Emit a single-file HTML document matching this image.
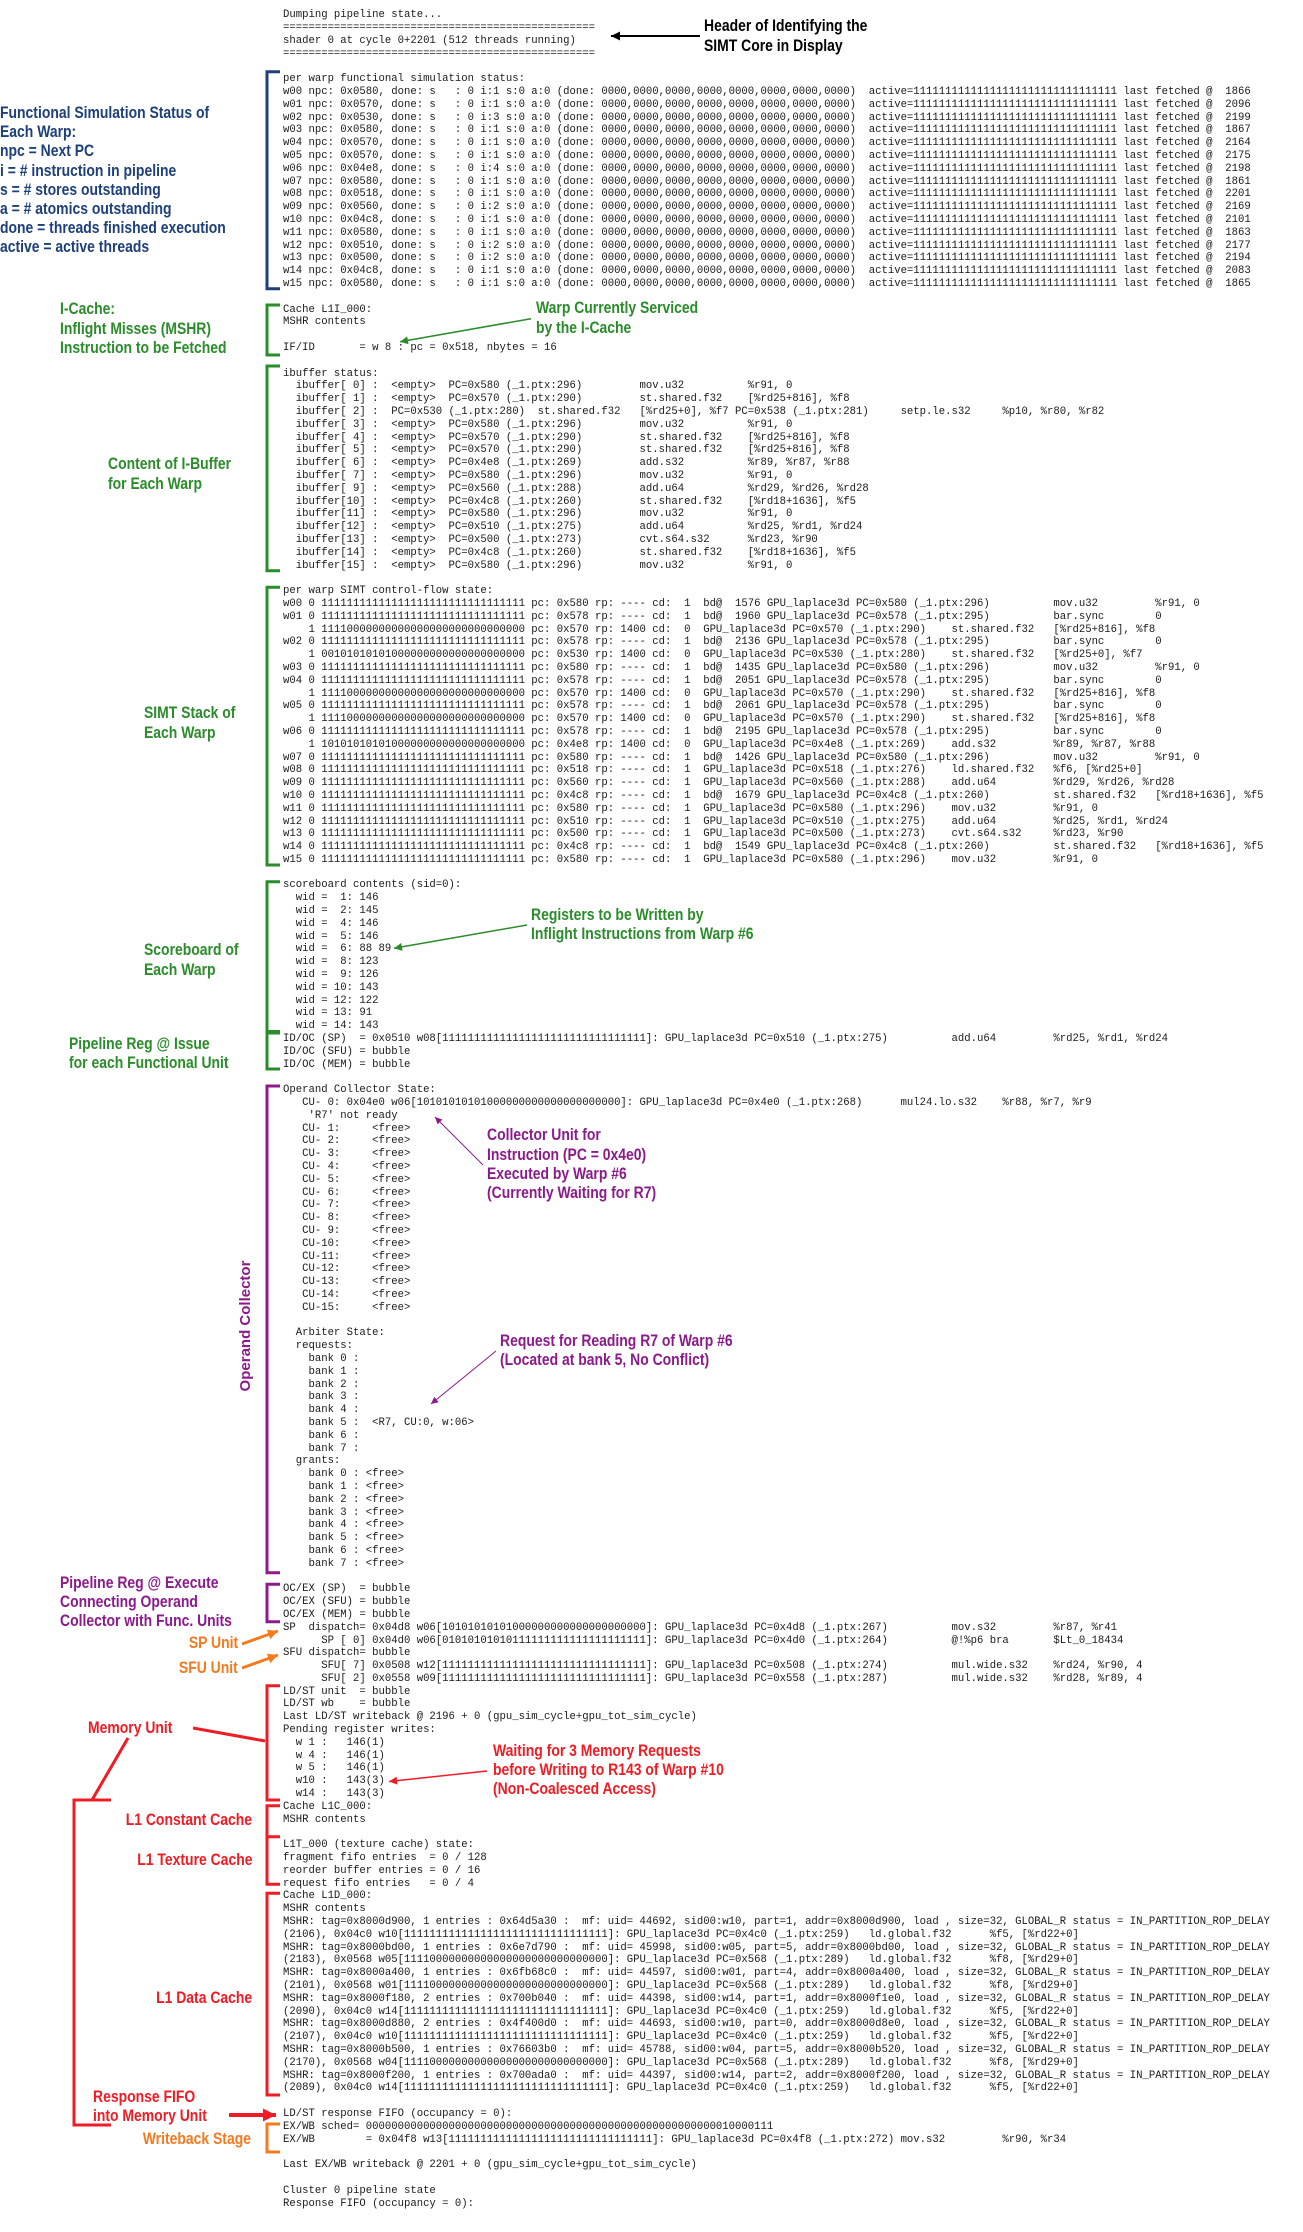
<!DOCTYPE html>
<html><head><meta charset="utf-8">
<style>
html,body{margin:0;padding:0;background:#fff;}
body{width:1303px;height:2232px;position:relative;overflow:hidden;}
pre{position:absolute;left:283px;top:9.3px;margin:0;font-family:"Liberation Mono",monospace;font-size:10.627px;line-height:12.8px;color:#1a1a1a;white-space:pre;}
.l{position:absolute;font-family:"Liberation Sans",sans-serif;font-weight:bold;font-size:17px;line-height:19.2px;white-space:nowrap;transform:scaleX(.82);transform-origin:left top;}
.r{text-align:right;transform-origin:right top;}
.blue{color:#1d3f7a}.green{color:#2a8c2a}.purple{color:#8b1a8b}.red{color:#ee1c24}.orange{color:#f47a20}.black{color:#000}
svg{position:absolute;left:0;top:0;}
</style></head><body>
<pre>Dumping pipeline state...
=================================================
shader 0 at cycle 0+2201 (512 threads running)
=================================================

per warp functional simulation status:
w00 npc: 0x0580, done: s   : 0 i:1 s:0 a:0 (done: 0000,0000,0000,0000,0000,0000,0000,0000)  active=11111111111111111111111111111111 last fetched @  1866
w01 npc: 0x0570, done: s   : 0 i:1 s:0 a:0 (done: 0000,0000,0000,0000,0000,0000,0000,0000)  active=11111111111111111111111111111111 last fetched @  2096
w02 npc: 0x0530, done: s   : 0 i:3 s:0 a:0 (done: 0000,0000,0000,0000,0000,0000,0000,0000)  active=11111111111111111111111111111111 last fetched @  2199
w03 npc: 0x0580, done: s   : 0 i:1 s:0 a:0 (done: 0000,0000,0000,0000,0000,0000,0000,0000)  active=11111111111111111111111111111111 last fetched @  1867
w04 npc: 0x0570, done: s   : 0 i:1 s:0 a:0 (done: 0000,0000,0000,0000,0000,0000,0000,0000)  active=11111111111111111111111111111111 last fetched @  2164
w05 npc: 0x0570, done: s   : 0 i:1 s:0 a:0 (done: 0000,0000,0000,0000,0000,0000,0000,0000)  active=11111111111111111111111111111111 last fetched @  2175
w06 npc: 0x04e8, done: s   : 0 i:4 s:0 a:0 (done: 0000,0000,0000,0000,0000,0000,0000,0000)  active=11111111111111111111111111111111 last fetched @  2198
w07 npc: 0x0580, done: s   : 0 i:1 s:0 a:0 (done: 0000,0000,0000,0000,0000,0000,0000,0000)  active=11111111111111111111111111111111 last fetched @  1861
w08 npc: 0x0518, done: s   : 0 i:1 s:0 a:0 (done: 0000,0000,0000,0000,0000,0000,0000,0000)  active=11111111111111111111111111111111 last fetched @  2201
w09 npc: 0x0560, done: s   : 0 i:2 s:0 a:0 (done: 0000,0000,0000,0000,0000,0000,0000,0000)  active=11111111111111111111111111111111 last fetched @  2169
w10 npc: 0x04c8, done: s   : 0 i:1 s:0 a:0 (done: 0000,0000,0000,0000,0000,0000,0000,0000)  active=11111111111111111111111111111111 last fetched @  2101
w11 npc: 0x0580, done: s   : 0 i:1 s:0 a:0 (done: 0000,0000,0000,0000,0000,0000,0000,0000)  active=11111111111111111111111111111111 last fetched @  1863
w12 npc: 0x0510, done: s   : 0 i:2 s:0 a:0 (done: 0000,0000,0000,0000,0000,0000,0000,0000)  active=11111111111111111111111111111111 last fetched @  2177
w13 npc: 0x0500, done: s   : 0 i:2 s:0 a:0 (done: 0000,0000,0000,0000,0000,0000,0000,0000)  active=11111111111111111111111111111111 last fetched @  2194
w14 npc: 0x04c8, done: s   : 0 i:1 s:0 a:0 (done: 0000,0000,0000,0000,0000,0000,0000,0000)  active=11111111111111111111111111111111 last fetched @  2083
w15 npc: 0x0580, done: s   : 0 i:1 s:0 a:0 (done: 0000,0000,0000,0000,0000,0000,0000,0000)  active=11111111111111111111111111111111 last fetched @  1865

Cache L1I_000:
MSHR contents

IF/ID       = w 8 : pc = 0x518, nbytes = 16

ibuffer status:
  ibuffer[ 0] :  &lt;empty&gt;  PC=0x580 (_1.ptx:296)         mov.u32          %r91, 0
  ibuffer[ 1] :  &lt;empty&gt;  PC=0x570 (_1.ptx:290)         st.shared.f32    [%rd25+816], %f8
  ibuffer[ 2] :  PC=0x530 (_1.ptx:280)  st.shared.f32   [%rd25+0], %f7 PC=0x538 (_1.ptx:281)     setp.le.s32     %p10, %r80, %r82
  ibuffer[ 3] :  &lt;empty&gt;  PC=0x580 (_1.ptx:296)         mov.u32          %r91, 0
  ibuffer[ 4] :  &lt;empty&gt;  PC=0x570 (_1.ptx:290)         st.shared.f32    [%rd25+816], %f8
  ibuffer[ 5] :  &lt;empty&gt;  PC=0x570 (_1.ptx:290)         st.shared.f32    [%rd25+816], %f8
  ibuffer[ 6] :  &lt;empty&gt;  PC=0x4e8 (_1.ptx:269)         add.s32          %r89, %r87, %r88
  ibuffer[ 7] :  &lt;empty&gt;  PC=0x580 (_1.ptx:296)         mov.u32          %r91, 0
  ibuffer[ 9] :  &lt;empty&gt;  PC=0x560 (_1.ptx:288)         add.u64          %rd29, %rd26, %rd28
  ibuffer[10] :  &lt;empty&gt;  PC=0x4c8 (_1.ptx:260)         st.shared.f32    [%rd18+1636], %f5
  ibuffer[11] :  &lt;empty&gt;  PC=0x580 (_1.ptx:296)         mov.u32          %r91, 0
  ibuffer[12] :  &lt;empty&gt;  PC=0x510 (_1.ptx:275)         add.u64          %rd25, %rd1, %rd24
  ibuffer[13] :  &lt;empty&gt;  PC=0x500 (_1.ptx:273)         cvt.s64.s32      %rd23, %r90
  ibuffer[14] :  &lt;empty&gt;  PC=0x4c8 (_1.ptx:260)         st.shared.f32    [%rd18+1636], %f5
  ibuffer[15] :  &lt;empty&gt;  PC=0x580 (_1.ptx:296)         mov.u32          %r91, 0

per warp SIMT control-flow state:
w00 0 11111111111111111111111111111111 pc: 0x580 rp: ---- cd:  1  bd@  1576 GPU_laplace3d PC=0x580 (_1.ptx:296)          mov.u32         %r91, 0
w01 0 11111111111111111111111111111111 pc: 0x578 rp: ---- cd:  1  bd@  1960 GPU_laplace3d PC=0x578 (_1.ptx:295)          bar.sync        0
    1 11110000000000000000000000000000 pc: 0x570 rp: 1400 cd:  0  GPU_laplace3d PC=0x570 (_1.ptx:290)    st.shared.f32   [%rd25+816], %f8
w02 0 11111111111111111111111111111111 pc: 0x578 rp: ---- cd:  1  bd@  2136 GPU_laplace3d PC=0x578 (_1.ptx:295)          bar.sync        0
    1 00101010101000000000000000000000 pc: 0x530 rp: 1400 cd:  0  GPU_laplace3d PC=0x530 (_1.ptx:280)    st.shared.f32   [%rd25+0], %f7
w03 0 11111111111111111111111111111111 pc: 0x580 rp: ---- cd:  1  bd@  1435 GPU_laplace3d PC=0x580 (_1.ptx:296)          mov.u32         %r91, 0
w04 0 11111111111111111111111111111111 pc: 0x578 rp: ---- cd:  1  bd@  2051 GPU_laplace3d PC=0x578 (_1.ptx:295)          bar.sync        0
    1 11110000000000000000000000000000 pc: 0x570 rp: 1400 cd:  0  GPU_laplace3d PC=0x570 (_1.ptx:290)    st.shared.f32   [%rd25+816], %f8
w05 0 11111111111111111111111111111111 pc: 0x578 rp: ---- cd:  1  bd@  2061 GPU_laplace3d PC=0x578 (_1.ptx:295)          bar.sync        0
    1 11110000000000000000000000000000 pc: 0x570 rp: 1400 cd:  0  GPU_laplace3d PC=0x570 (_1.ptx:290)    st.shared.f32   [%rd25+816], %f8
w06 0 11111111111111111111111111111111 pc: 0x578 rp: ---- cd:  1  bd@  2195 GPU_laplace3d PC=0x578 (_1.ptx:295)          bar.sync        0
    1 10101010101000000000000000000000 pc: 0x4e8 rp: 1400 cd:  0  GPU_laplace3d PC=0x4e8 (_1.ptx:269)    add.s32         %r89, %r87, %r88
w07 0 11111111111111111111111111111111 pc: 0x580 rp: ---- cd:  1  bd@  1426 GPU_laplace3d PC=0x580 (_1.ptx:296)          mov.u32         %r91, 0
w08 0 11111111111111111111111111111111 pc: 0x518 rp: ---- cd:  1  GPU_laplace3d PC=0x518 (_1.ptx:276)    ld.shared.f32   %f6, [%rd25+0]
w09 0 11111111111111111111111111111111 pc: 0x560 rp: ---- cd:  1  GPU_laplace3d PC=0x560 (_1.ptx:288)    add.u64         %rd29, %rd26, %rd28
w10 0 11111111111111111111111111111111 pc: 0x4c8 rp: ---- cd:  1  bd@  1679 GPU_laplace3d PC=0x4c8 (_1.ptx:260)          st.shared.f32   [%rd18+1636], %f5
w11 0 11111111111111111111111111111111 pc: 0x580 rp: ---- cd:  1  GPU_laplace3d PC=0x580 (_1.ptx:296)    mov.u32         %r91, 0
w12 0 11111111111111111111111111111111 pc: 0x510 rp: ---- cd:  1  GPU_laplace3d PC=0x510 (_1.ptx:275)    add.u64         %rd25, %rd1, %rd24
w13 0 11111111111111111111111111111111 pc: 0x500 rp: ---- cd:  1  GPU_laplace3d PC=0x500 (_1.ptx:273)    cvt.s64.s32     %rd23, %r90
w14 0 11111111111111111111111111111111 pc: 0x4c8 rp: ---- cd:  1  bd@  1549 GPU_laplace3d PC=0x4c8 (_1.ptx:260)          st.shared.f32   [%rd18+1636], %f5
w15 0 11111111111111111111111111111111 pc: 0x580 rp: ---- cd:  1  GPU_laplace3d PC=0x580 (_1.ptx:296)    mov.u32         %r91, 0

scoreboard contents (sid=0):
  wid =  1: 146
  wid =  2: 145
  wid =  4: 146
  wid =  5: 146
  wid =  6: 88 89
  wid =  8: 123
  wid =  9: 126
  wid = 10: 143
  wid = 12: 122
  wid = 13: 91
  wid = 14: 143
ID/OC (SP)  = 0x0510 w08[11111111111111111111111111111111]: GPU_laplace3d PC=0x510 (_1.ptx:275)          add.u64         %rd25, %rd1, %rd24
ID/OC (SFU) = bubble
ID/OC (MEM) = bubble

Operand Collector State:
   CU- 0: 0x04e0 w06[10101010101000000000000000000000]: GPU_laplace3d PC=0x4e0 (_1.ptx:268)      mul24.lo.s32    %r88, %r7, %r9
    'R7' not ready
   CU- 1:     &lt;free&gt;
   CU- 2:     &lt;free&gt;
   CU- 3:     &lt;free&gt;
   CU- 4:     &lt;free&gt;
   CU- 5:     &lt;free&gt;
   CU- 6:     &lt;free&gt;
   CU- 7:     &lt;free&gt;
   CU- 8:     &lt;free&gt;
   CU- 9:     &lt;free&gt;
   CU-10:     &lt;free&gt;
   CU-11:     &lt;free&gt;
   CU-12:     &lt;free&gt;
   CU-13:     &lt;free&gt;
   CU-14:     &lt;free&gt;
   CU-15:     &lt;free&gt;

  Arbiter State:
  requests:
    bank 0 :
    bank 1 :
    bank 2 :
    bank 3 :
    bank 4 :
    bank 5 :  &lt;R7, CU:0, w:06&gt;
    bank 6 :
    bank 7 :
  grants:
    bank 0 : &lt;free&gt;
    bank 1 : &lt;free&gt;
    bank 2 : &lt;free&gt;
    bank 3 : &lt;free&gt;
    bank 4 : &lt;free&gt;
    bank 5 : &lt;free&gt;
    bank 6 : &lt;free&gt;
    bank 7 : &lt;free&gt;

OC/EX (SP)  = bubble
OC/EX (SFU) = bubble
OC/EX (MEM) = bubble
SP  dispatch= 0x04d8 w06[10101010101000000000000000000000]: GPU_laplace3d PC=0x4d8 (_1.ptx:267)          mov.s32         %r87, %r41
      SP [ 0] 0x04d0 w06[01010101010111111111111111111111]: GPU_laplace3d PC=0x4d0 (_1.ptx:264)          @!%p6 bra       $Lt_0_18434
SFU dispatch= bubble
      SFU[ 7] 0x0508 w12[11111111111111111111111111111111]: GPU_laplace3d PC=0x508 (_1.ptx:274)          mul.wide.s32    %rd24, %r90, 4
      SFU[ 2] 0x0558 w09[11111111111111111111111111111111]: GPU_laplace3d PC=0x558 (_1.ptx:287)          mul.wide.s32    %rd28, %r89, 4
LD/ST unit  = bubble
LD/ST wb    = bubble
Last LD/ST writeback @ 2196 + 0 (gpu_sim_cycle+gpu_tot_sim_cycle)
Pending register writes:
  w 1 :   146(1)
  w 4 :   146(1)
  w 5 :   146(1)
  w10 :   143(3)
  w14 :   143(3)
Cache L1C_000:
MSHR contents

L1T_000 (texture cache) state:
fragment fifo entries  = 0 / 128
reorder buffer entries = 0 / 16
request fifo entries   = 0 / 4
Cache L1D_000:
MSHR contents
MSHR: tag=0x8000d900, 1 entries : 0x64d5a30 :  mf: uid= 44692, sid00:w10, part=1, addr=0x8000d900, load , size=32, GLOBAL_R status = IN_PARTITION_ROP_DELAY
(2106), 0x04c0 w10[11111111111111111111111111111111]: GPU_laplace3d PC=0x4c0 (_1.ptx:259)   ld.global.f32      %f5, [%rd22+0]
MSHR: tag=0x8000bd00, 1 entries : 0x6e7d790 :  mf: uid= 45998, sid00:w05, part=5, addr=0x8000bd00, load , size=32, GLOBAL_R status = IN_PARTITION_ROP_DELAY
(2183), 0x0568 w05[11110000000000000000000000000000]: GPU_laplace3d PC=0x568 (_1.ptx:289)   ld.global.f32      %f8, [%rd29+0]
MSHR: tag=0x8000a400, 1 entries : 0x6fb68c0 :  mf: uid= 44597, sid00:w01, part=4, addr=0x8000a400, load , size=32, GLOBAL_R status = IN_PARTITION_ROP_DELAY
(2101), 0x0568 w01[11110000000000000000000000000000]: GPU_laplace3d PC=0x568 (_1.ptx:289)   ld.global.f32      %f8, [%rd29+0]
MSHR: tag=0x8000f180, 2 entries : 0x700b040 :  mf: uid= 44398, sid00:w14, part=1, addr=0x8000f1e0, load , size=32, GLOBAL_R status = IN_PARTITION_ROP_DELAY
(2090), 0x04c0 w14[11111111111111111111111111111111]: GPU_laplace3d PC=0x4c0 (_1.ptx:259)   ld.global.f32      %f5, [%rd22+0]
MSHR: tag=0x8000d880, 2 entries : 0x4f400d0 :  mf: uid= 44693, sid00:w10, part=0, addr=0x8000d8e0, load , size=32, GLOBAL_R status = IN_PARTITION_ROP_DELAY
(2107), 0x04c0 w10[11111111111111111111111111111111]: GPU_laplace3d PC=0x4c0 (_1.ptx:259)   ld.global.f32      %f5, [%rd22+0]
MSHR: tag=0x8000b500, 1 entries : 0x76603b0 :  mf: uid= 45788, sid00:w04, part=5, addr=0x8000b520, load , size=32, GLOBAL_R status = IN_PARTITION_ROP_DELAY
(2170), 0x0568 w04[11110000000000000000000000000000]: GPU_laplace3d PC=0x568 (_1.ptx:289)   ld.global.f32      %f8, [%rd29+0]
MSHR: tag=0x8000f200, 1 entries : 0x700ada0 :  mf: uid= 44397, sid00:w14, part=2, addr=0x8000f200, load , size=32, GLOBAL_R status = IN_PARTITION_ROP_DELAY
(2089), 0x04c0 w14[11111111111111111111111111111111]: GPU_laplace3d PC=0x4c0 (_1.ptx:259)   ld.global.f32      %f5, [%rd22+0]

LD/ST response FIFO (occupancy = 0):
EX/WB sched= 0000000000000000000000000000000000000000000000000000000010000111
EX/WB        = 0x04f8 w13[11111111111111111111111111111111]: GPU_laplace3d PC=0x4f8 (_1.ptx:272) mov.s32         %r90, %r34

Last EX/WB writeback @ 2201 + 0 (gpu_sim_cycle+gpu_tot_sim_cycle)

Cluster 0 pipeline state
Response FIFO (occupancy = 0):
</pre>

<svg width="1303" height="2232" viewBox="0 0 1303 2232">
<defs>
<marker id="mk" markerUnits="userSpaceOnUse" viewBox="0 0 10 10" refX="10" refY="5" markerWidth="10" markerHeight="9" orient="auto"><path d="M0,0L10,5L0,10z" fill="#000"/></marker>
<marker id="mg" markerUnits="userSpaceOnUse" viewBox="0 0 10 10" refX="10" refY="5" markerWidth="10" markerHeight="8" orient="auto"><path d="M0,0L10,5L0,10z" fill="#2a8c2a"/></marker>
<marker id="mp" markerUnits="userSpaceOnUse" viewBox="0 0 10 10" refX="10" refY="5" markerWidth="10" markerHeight="7" orient="auto"><path d="M0,0L10,5L0,10z" fill="#8b1a8b"/></marker>
<marker id="mo" markerUnits="userSpaceOnUse" viewBox="0 0 10 10" refX="10" refY="5" markerWidth="11" markerHeight="10" orient="auto"><path d="M0,0L10,5L0,10z" fill="#f47a20"/></marker>
<marker id="mr" markerUnits="userSpaceOnUse" viewBox="0 0 10 10" refX="10" refY="5" markerWidth="10" markerHeight="8" orient="auto"><path d="M0,0L10,5L0,10z" fill="#ee1c24"/></marker>
<marker id="mr2" markerUnits="userSpaceOnUse" viewBox="0 0 10 10" refX="10" refY="5" markerWidth="13" markerHeight="14" orient="auto"><path d="M0,0L10,5L0,10z" fill="#ee1c24"/></marker>
</defs>
<g fill="none" stroke-width="3">
<path d="M280,71.7H267V288.7H280" stroke="#1d3f7a"/>
<g stroke="#2a8c2a">
<path d="M280,305H267V355H280"/>
<path d="M280,366H267V570.7H280"/>
<path d="M280,587.3H267V865H280"/>
<path d="M280,881.7H267V1031.5H280"/>
<path d="M280,1033H267V1069H280"/>
</g>
<g stroke="#8b1a8b">
<path d="M280,1086H267V1572.7H280"/>
<path d="M280,1584.3H267V1621.7H280"/>
</g>
<g stroke="#ee1c24">
<path d="M280,1685.7H267V1800H280"/>
<path d="M280,1805.7H267V1836.7H280"/>
<path d="M267,1836.7V1884.3H280"/>
<path d="M280,1893.3H267V2095H280"/>
<path d="M111,1800H74V2125H111"/>
<path d="M128,1738L92,1800"/>
<path d="M193,1728L265,1741"/>
</g>
<path d="M280,2124H267V2152H280" stroke="#f47a20"/>
</g>
<line x1="700" y1="36" x2="611" y2="36" stroke="#000" stroke-width="2" marker-end="url(#mk)"/>
<line x1="531" y1="318.7" x2="400" y2="341.7" stroke="#2a8c2a" stroke-width="1.5" marker-end="url(#mg)"/>
<line x1="527" y1="925" x2="394" y2="948.3" stroke="#2a8c2a" stroke-width="1.5" marker-end="url(#mg)"/>
<line x1="483" y1="1165" x2="435" y2="1117" stroke="#8b1a8b" stroke-width="1" marker-end="url(#mp)"/>
<line x1="496" y1="1351" x2="431" y2="1404" stroke="#8b1a8b" stroke-width="1" marker-end="url(#mp)"/>
<line x1="242" y1="1644" x2="278" y2="1631" stroke="#f47a20" stroke-width="3" marker-end="url(#mo)"/>
<line x1="242" y1="1668" x2="278" y2="1655" stroke="#f47a20" stroke-width="3" marker-end="url(#mo)"/>
<line x1="487" y1="1771" x2="389" y2="1781.5" stroke="#ee1c24" stroke-width="1.5" marker-end="url(#mr)"/>
<line x1="229" y1="2115" x2="276" y2="2115" stroke="#ee1c24" stroke-width="4" marker-end="url(#mr2)"/>
</svg>

<div class="l black" style="left:704px;top:16.4px">Header of Identifying the<br>SIMT Core in Display</div>
<div class="l blue" style="left:0;top:103px">Functional Simulation Status of<br>Each Warp:<br>npc = Next PC<br>i = # instruction in pipeline<br>s = # stores outstanding<br>a = # atomics outstanding<br>done = threads finished execution<br>active = active threads</div>
<div class="l green" style="left:60px;top:299.4px">I-Cache:<br>Inflight Misses (MSHR)<br>Instruction to be Fetched</div>
<div class="l green" style="left:536px;top:298.4px">Warp Currently Serviced<br>by the I-Cache</div>
<div class="l green" style="left:108px;top:454.4px">Content of I-Buffer<br>for Each Warp</div>
<div class="l green" style="left:144px;top:703.4px">SIMT Stack of<br>Each Warp</div>
<div class="l green" style="left:144px;top:940.4px">Scoreboard of<br>Each Warp</div>
<div class="l green" style="left:531px;top:904.7px">Registers to be Written by<br>Inflight Instructions from Warp #6</div>
<div class="l green" style="left:69px;top:1033.7px">Pipeline Reg @ Issue<br>for each Functional Unit</div>
<div class="l purple" style="left:487px;top:1125.4px">Collector Unit for<br>Instruction (PC = 0x4e0)<br>Executed by Warp #6<br>(Currently Waiting for R7)</div>
<div class="l purple" style="left:500px;top:1330.7px">Request for Reading R7 of Warp #6<br>(Located at bank 5, No Conflict)</div>
<div style="position:absolute;left:176px;top:1316px;width:140px;height:20px;transform:rotate(-90deg);font-family:'Liberation Sans',sans-serif;font-weight:bold;font-size:15px;line-height:20px;color:#8b1a8b;text-align:center;white-space:nowrap;">Operand Collector</div>
<div class="l purple" style="left:60px;top:1572.7px">Pipeline Reg @ Execute<br>Connecting Operand<br>Collector with Func. Units</div>
<div class="l r orange" style="right:1065px;top:1633px">SP Unit</div>
<div class="l r orange" style="right:1065px;top:1657.7px">SFU Unit</div>
<div class="l red" style="left:87.5px;top:1717.7px">Memory Unit</div>
<div class="l red" style="left:493px;top:1741px">Waiting for 3 Memory Requests<br>before Writing to R143 of Warp #10<br>(Non-Coalesced Access)</div>
<div class="l r red" style="right:1051px;top:1809.7px">L1 Constant Cache</div>
<div class="l r red" style="right:1051px;top:1849.7px">L1 Texture Cache</div>
<div class="l r red" style="right:1051px;top:1988px">L1 Data Cache</div>
<div class="l red" style="left:93px;top:2087px">Response FIFO<br>into Memory Unit</div>
<div class="l r orange" style="right:1052px;top:2128.7px">Writeback Stage</div>
</body></html>
